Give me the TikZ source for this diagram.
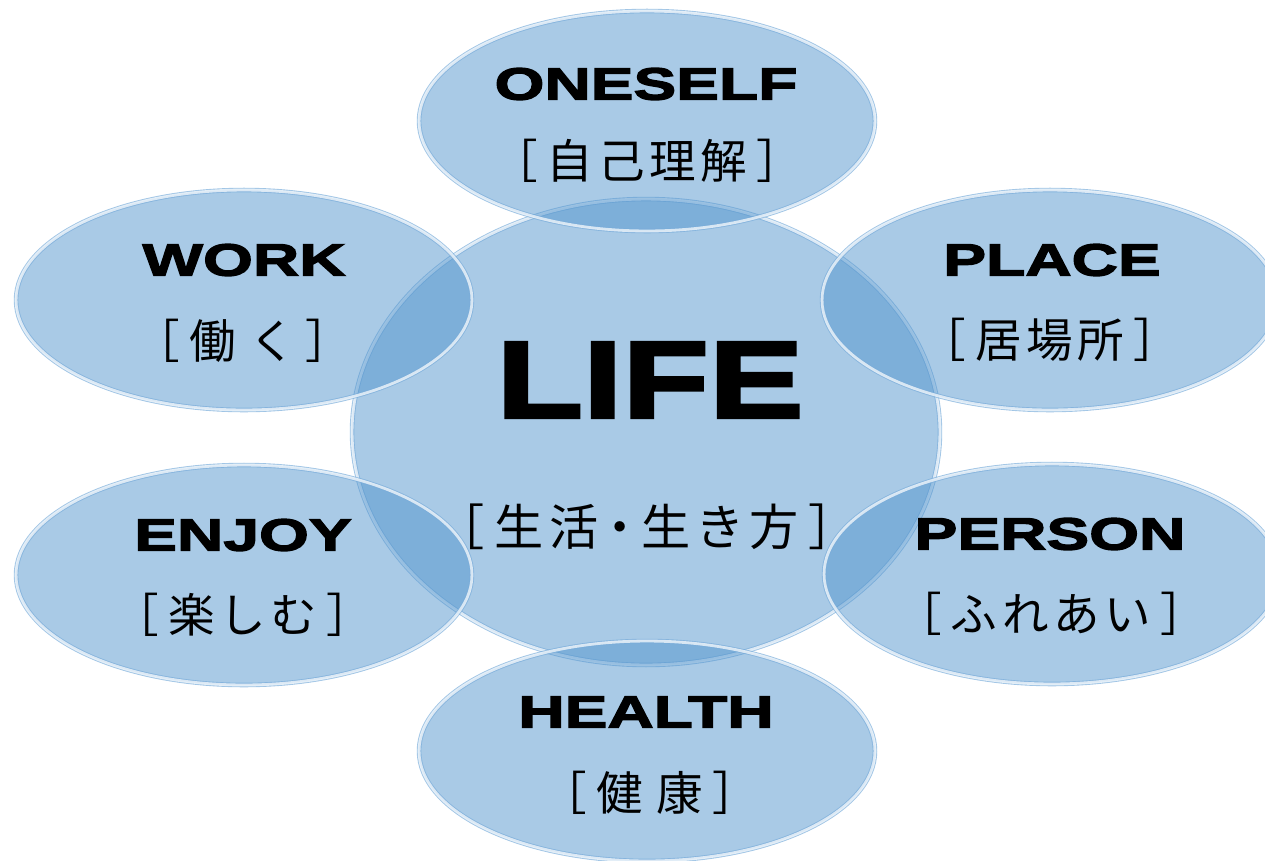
\documentclass[tikz,border=0pt]{standalone}
\usepackage{fontspec}
\usetikzlibrary{shapes.geometric}
\newfontfamily\enfont[FakeStretch=1.42,BoldFeatures={FakeBold=3}]{Liberation Sans}
\newfontfamily\lifefont[FakeStretch=1.3,BoldFeatures={FakeBold=3}]{Liberation Sans}
\newfontfamily\jpfont[LetterSpace=10]{Noto Sans CJK JP}
\definecolor{bubblefill}{RGB}{83,149,205}
\definecolor{bubblerim}{RGB}{120,172,218}
\newcommand{\jpbox}[1]{［\hspace{0.2em}#1\hspace{0.2em}］}

\tikzset{
    bubble/.style={shape=ellipse, inner sep=0pt, minimum width=9.12cm, minimum height=4.4cm,
        fill=bubblefill, fill opacity=0.5, draw=bubblerim, draw opacity=0.7,
        line width=0.5pt, double=white, double distance=1.6pt},
    entext/.style={font=\enfont\bfseries\fontsize{25.7}{28}\selectfont, inner sep=0pt},
    jptext/.style={font=\jpfont\fontsize{26.5}{30}\selectfont, inner sep=0pt},
}

\begin{document}
\begin{tikzpicture}[x=0.02cm, y=-0.02cm]
        \useasboundingbox (0,0) rectangle (1265,860);
        \clip (0,0) rectangle (1265,860);
        % centre
        \node[bubble, minimum width=11.76cm, minimum height=9.32cm] (life) at (646,432) {};
        % around
        \node[bubble] (oneself) at (647,121) {};
        \node[bubble] (work) at (244,300) {};
        \node[bubble] (place) at (1050,300) {};
        \node[bubble] (enjoy) at (244,575) {};
        \node[bubble] (person) at (1052,574) {};
        \node[bubble] (health) at (647,751) {};
        % labels
        \node[entext, font=\lifefont\bfseries\fontsize{62}{66}\selectfont] (lifeEn) at (650,380) {LIFE};
        \node[jptext, font=\jpfont\fontsize{28}{30}\selectfont] (lifeJp) at (647,527) {\jpbox{生活{\kern-0.06em}・{\kern-0.06em}生き方}};
        \node[entext] (oneselfEn) at (646,84) {ONESELF};
        \node[jptext] (oneselfJp) at (647,161) {\jpbox{自己理解}};
        \node[entext] (workEn) at (244,260) {WORK};
        \node[jptext] (workJp) at (243,341) {\jpbox{働\hspace{0.3em}く}};
        \node[entext] (placeEn) at (1052,260) {PLACE};
        \node[jptext] (placeJp) at (1050,340) {\jpbox{居場所}};
        \node[entext] (enjoyEn) at (243,535) {ENJOY};
        \node[jptext] (enjoyJp) at (243,615) {\jpbox{楽しむ}};
        \node[entext] (personEn) at (1050,534) {PERSON};
        \node[jptext] (personJp) at (1051,614) {\jpbox{ふれあい}};
        \node[entext] (healthEn) at (646,712) {HEALTH};
        \node[jptext] (healthJp) at (650,793) {\jpbox{健\hspace{0.3em}康}};
    \end{tikzpicture}
\end{document}
